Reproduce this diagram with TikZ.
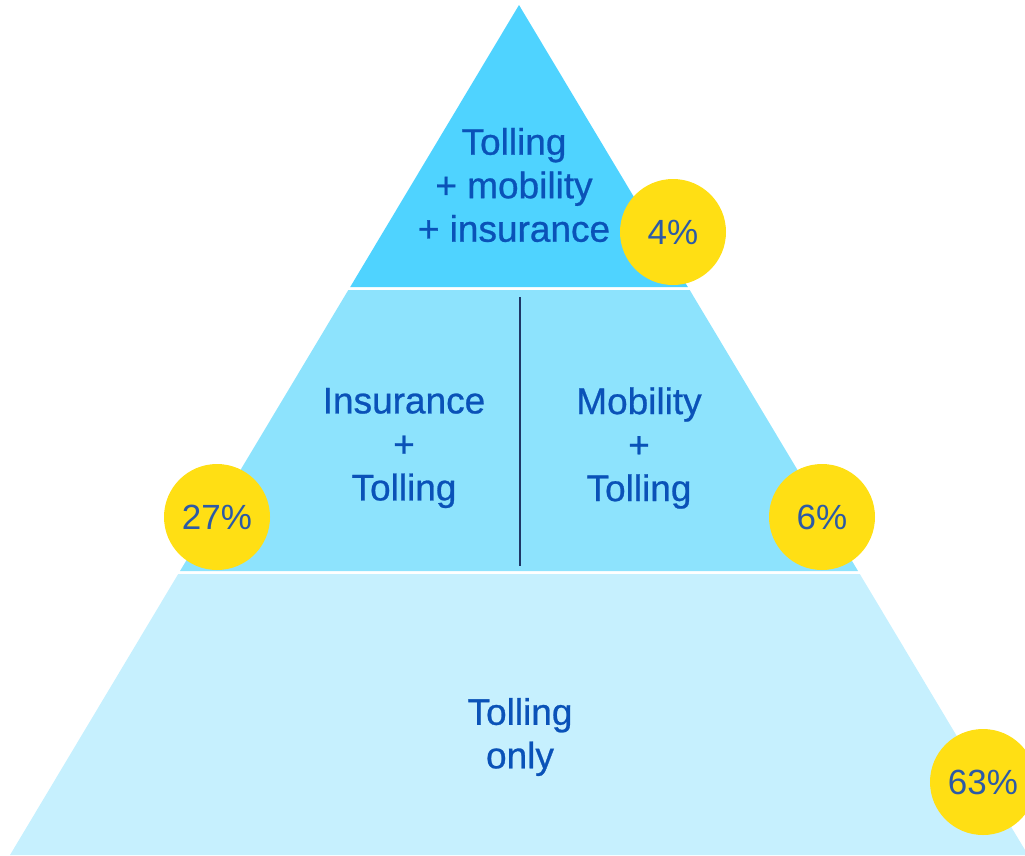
\documentclass[tikz,border=0pt]{standalone}
\usepackage{fontspec}
\setmainfont{Liberation Sans}
\newfontfamily\tierfont[FakeBold=0.7]{Liberation Sans}
\usetikzlibrary{positioning,calc}
\definecolor{tierTop}{HTML}{4FD3FF}
\definecolor{tierMid}{HTML}{8DE3FD}
\definecolor{tierLow}{HTML}{C6F0FE}
\definecolor{badgeYellow}{HTML}{FFDF14}
\definecolor{labelBlue}{HTML}{0A52B8}
\definecolor{pctBlue}{HTML}{2C5AA6}
\definecolor{dividerNavy}{HTML}{1E3766}

\begin{document}
\begin{tikzpicture}[
            x=1pt, y=-1pt,
            tier/.style={
                    draw=none
                },
            tierText/.style={
                    align=center,
                    text=labelBlue,
                    inner sep=0pt,
                    font=\tierfont\fontsize{37}{43.5}\selectfont
                },
            badge/.style={
                    circle,
                    fill=badgeYellow,
                    minimum size=106pt,
                    inner sep=0pt,
                    text=pctBlue,
                    font=\fontsize{35}{40}\selectfont
                },
            divider/.style={
                    draw=dividerNavy,
                    line width=2pt
                }
            ]

            \useasboundingbox (0,0) rectangle (1025,855);

            % 1. Nivel superior (triangulo)
            \fill[tier, tierTop] (519,5) -- (687.8,287) -- (350.2,287) -- cycle;

            % 2. Nivel medio (trapecio)
            \fill[tier, tierMid] (348.3,290) -- (689.7,290) -- (858,571) -- (180,571) -- cycle;

            % 3. Nivel inferior (trapecio)
            \fill[tier, tierLow] (178.2,574) -- (859.8,574) -- (1028,855) -- (10,855) -- cycle;

            % --- TEXTOS DE LOS NIVELES ---
            \node[tierText] (topText) at (514,185) {Tolling\\+ mobility\\+ insurance};
            \node[tierText] (insText) at (404,448) {Insurance\\+\\Tolling};
            \node[tierText] (mobText) at (639,448) {Mobility\\+\\Tolling};
            \node[tierText] (lowText) at (520,737) {Tolling\\only};

            % Separador vertical del nivel medio
            \coordinate (divTop) at (519.5,297);
            \coordinate (divBot) at (519.5,566);
            \draw[divider] (divTop) -- (divBot);

            % --- PORCENTAJES ---
            \node[badge] (pctTop) at (673,232) {4\%};
            \node[badge] (pctIns) at (217,517) {27\%};
            \node[badge] (pctMob) at (822,517) {6\%};
            \node[badge] (pctLow) at (983,782) {63\%};

        \end{tikzpicture}
\end{document}
